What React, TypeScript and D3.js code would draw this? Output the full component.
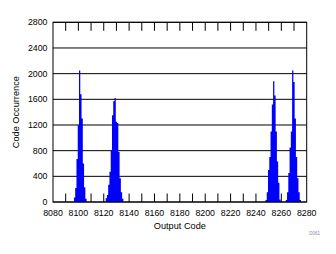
import React from "react";
import * as d3 from "d3";

const peak1Codes = [8097, 8098, 8099, 8100, 8101, 8102, 8103, 8104, 8105, 8106];
const peak1Counts = [70, 220, 670, 1200, 2050, 1680, 1300, 600, 230, 50];
const peak2Codes = [8122, 8123, 8124, 8125, 8126, 8127, 8128, 8129, 8130, 8131, 8132, 8133, 8134, 8135];
const peak2Counts = [60, 110, 270, 470, 810, 1350, 1570, 1620, 1250, 1230, 780, 370, 150, 50];
const peak3Codes = [8248, 8249, 8250, 8251, 8252, 8253, 8254, 8255, 8256, 8257, 8258, 8259];
const peak3Counts = [30, 150, 500, 700, 1100, 1520, 1880, 1660, 1100, 630, 300, 40];
const peak4Codes = [8264, 8265, 8266, 8267, 8268, 8269, 8270, 8271, 8272, 8273, 8274, 8275];
const peak4Counts = [30, 150, 450, 850, 1100, 2050, 1870, 1300, 700, 370, 150, 30];

const xTicks = [8080, 8100, 8120, 8140, 8160, 8180, 8200, 8220, 8240, 8260, 8280];
const yTicks = [0, 400, 800, 1200, 1600, 2000, 2400, 2800];

const W = 336;
const H = 254;
const L = 53;
const R = 306.7;
const T = 22.3;
const B = 202;

export default function App() {
  const x = d3.scaleLinear().domain([8080, 8280]).range([L, R]);
  const y = d3.scaleLinear().domain([0, 2800]).range([B, T]);
  const peaks: [number[], number[]][] = [
    [peak1Codes, peak1Counts],
    [peak2Codes, peak2Counts],
    [peak3Codes, peak3Counts],
    [peak4Codes, peak4Counts],
  ];
  const line = d3.line<[number, number]>().x((d) => x(d[0])).y((d) => y(d[1]));
  const peakPath = (codes: number[], counts: number[]) => {
    const pts: [number, number][] = [[codes[0] - 0.5, 0]];
    codes.forEach((c, i) => {
      pts.push([c - 0.5, counts[i]]);
      pts.push([c + 0.5, counts[i]]);
    });
    pts.push([codes[codes.length - 1] + 0.5, 0]);
    return line(pts) + "Z";
  };
  const minorTicks = d3.range(8090, 8280, 10);
  const font = "Arial, 'Liberation Sans', sans-serif";

  return (
    <div style={{ position: "fixed", left: 0, top: 0 }}>
      <svg width={W} height={H} style={{ display: "block", background: "#fff" }}>
        {yTicks.map((t) => (
          <line key={"g" + t} x1={L} x2={R} y1={y(t)} y2={y(t)} stroke="#000" strokeWidth={1} />
        ))}
        {minorTicks.map((t) => (
          <g key={"t" + t}>
            <line x1={x(t)} x2={x(t)} y1={B} y2={B - 8.5} stroke="#000" strokeWidth={1} />
            <line x1={x(t)} x2={x(t)} y1={T} y2={T + 8.5} stroke="#000" strokeWidth={1} />
          </g>
        ))}
        {peaks.map(([c, v], i) => (
          <path key={"p" + i} d={peakPath(c, v)} fill="#0000ff" />
        ))}
        <rect x={L} y={T} width={R - L} height={B - T} fill="none" stroke="#000" strokeWidth={1} />
        {yTicks.map((t) => (
          <text key={"yl" + t} x={47.5} y={y(t) + 3} textAnchor="end" fontFamily={font} fontSize={8.8} fill="#000">
            {t}
          </text>
        ))}
        {xTicks.map((t) => (
          <text key={"xl" + t} x={x(t)} y={215.8} textAnchor="middle" fontFamily={font} fontSize={8.8} fill="#000">
            {t}
          </text>
        ))}
        <text x={(L + R) / 2} y={229} textAnchor="middle" fontFamily={font} fontSize={9.2} fill="#000">
          Output Code
        </text>
        <text
          transform={`translate(19.3, ${(T + B) / 2}) rotate(-90)`}
          textAnchor="middle"
          fontFamily={font}
          fontSize={9.2}
          fill="#000"
        >
          Code Occurrence
        </text>
        <text x={320} y={234.5} textAnchor="end" fontFamily={font} fontSize={4.5} fill="#8a8aa0">
          D061
        </text>
      </svg>
    </div>
  );
}
